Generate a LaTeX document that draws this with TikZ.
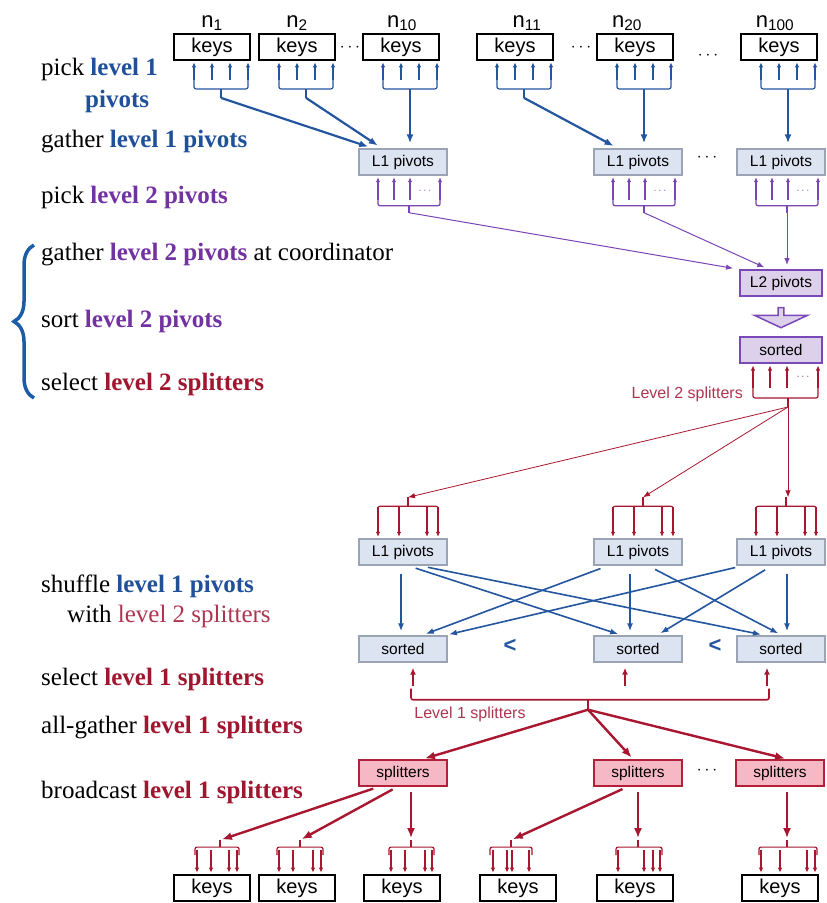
\documentclass[tikz,border=0pt]{standalone}
\usepackage{fontspec}
\setmainfont{Liberation Serif}
\setsansfont{Liberation Sans}
\usepackage{tikz}
\usetikzlibrary{arrows.meta,positioning,calc,shapes.arrows,decorations.pathreplacing}

\definecolor{lvlone}{HTML}{20509A}
\definecolor{lvltwo}{HTML}{7232A2}
\definecolor{splt}{HTML}{A1162F}
\definecolor{spltlight}{HTML}{AE3550}
\definecolor{arrblue}{HTML}{2456A0}
\definecolor{arrpurp}{HTML}{7A45B5}
\definecolor{arrred}{HTML}{A8162F}
\definecolor{pivfill}{HTML}{DCE3F1}
\definecolor{pivline}{HTML}{9AA4B4}
\definecolor{lavfill}{HTML}{DCD0EA}
\definecolor{lavline}{HTML}{7A48B8}
\definecolor{pinkfill}{HTML}{F5B8C4}
\definecolor{redline}{HTML}{B3203A}
\definecolor{bracecol}{HTML}{1A5DA6}

\newcommand{\blueword}[1]{\textbf{\color{lvlone}#1}}
\newcommand{\purpleword}[1]{\textbf{\color{lvltwo}#1}}
\newcommand{\redword}[1]{\textbf{\color{splt}#1}}

\begin{document}
\begin{tikzpicture}[x=1pt, y=-1pt, >=Latex,
  keysbox/.style={draw=black, line width=1.8pt, fill=white, minimum width=76pt, minimum height=26pt, inner sep=0pt, font=\sffamily\fontsize{20}{20}\selectfont},
  pivbox/.style={draw=pivline, line width=1.4pt, fill=pivfill, minimum width=88pt, minimum height=26pt, inner sep=0pt, font=\sffamily\fontsize{15.5}{15.5}\selectfont},
  lavbox/.style={draw=lavline, line width=2pt, fill=lavfill, minimum width=82pt, minimum height=26pt, inner sep=0pt, font=\sffamily\fontsize{15.5}{15.5}\selectfont},
  splitbox/.style={draw=redline, line width=2pt, fill=pinkfill, minimum width=88pt, minimum height=26pt, inner sep=0pt, font=\sffamily\fontsize{15.5}{15.5}\selectfont},
  nlab/.style={anchor=base, inner sep=0pt, font=\sffamily\fontsize{22}{22}\selectfont},
  steptext/.style={anchor=base west, inner sep=0pt, font=\fontsize{25}{25}\selectfont},
  redlab/.style={text=spltlight, inner sep=0pt, font=\sffamily\fontsize{16}{16}\selectfont},
  dotlab/.style={inner sep=0pt, font=\fontsize{16}{16}\selectfont},
  blueup/.style={draw=arrblue, line width=1.2pt, -{Latex[length=5pt,width=4.5pt]}},
  bluecomb/.style={draw=arrblue, line width=1.2pt, rounded corners=2pt},
  bluebig/.style={draw=arrblue, line width=2.2pt, -{Latex[length=9pt,width=7pt]}, shorten >=5pt},
  bluemid/.style={draw=arrblue, line width=1.6pt, -{Latex[length=8pt,width=6pt]}, shorten <=8pt, shorten >=4pt},
  purpup/.style={draw=arrpurp, line width=1.3pt, -{Latex[length=5pt,width=4.5pt]}},
  purpcomb/.style={draw=arrpurp, line width=1.3pt, rounded corners=2pt},
  purpthin/.style={draw=arrpurp, line width=1pt, -{Latex[length=7pt,width=5.5pt]}, shorten >=4pt},
  redup/.style={draw=arrred, line width=1.2pt, -{Latex[length=5pt,width=4.5pt]}},
  redcomb/.style={draw=arrred, line width=1.2pt, rounded corners=2pt},
  redthin/.style={draw=arrred, line width=0.8pt, -{Latex[length=7pt,width=5.5pt]}},
  redmid/.style={draw=arrred, line width=1.8pt, -{Latex[length=7pt,width=6pt]}},
  redbig/.style={draw=arrred, line width=2.4pt, -{Latex[length=10pt,width=8pt]}, shorten >=2pt}]

\useasboundingbox (0,0) rectangle (827,903);
\fill[white] (0,0) rectangle (827,903);

\node[steptext] (t1) at (41,75) {pick \blueword{level 1}};
\node[steptext] (t1b) at (85,107) {\blueword{pivots}};
\node[steptext] (t2) at (41,147) {gather \blueword{level 1 pivots}};
\node[steptext] (t3) at (41,203) {pick \purpleword{level 2 pivots}};
\node[steptext] (t4) at (41,260) {gather \purpleword{level 2 pivots} at coordinator};
\node[steptext] (t5) at (41,327) {sort \purpleword{level 2 pivots}};
\node[steptext] (t6) at (41,390) {select \redword{level 2 splitters}};
\node[steptext] (t7) at (41,592) {shuffle \blueword{level 1 pivots}};
\node[steptext] (t7b) at (67,622) {with {\color{spltlight}level 2 splitters}};
\node[steptext] (t8) at (41,685) {select \redword{level 1 splitters}};
\node[steptext] (t9) at (41,733) {all-gather \redword{level 1 splitters}};
\node[steptext] (t10) at (41,798) {broadcast \redword{level 1 splitters}};
\draw[decorate, decoration={brace, amplitude=20pt}, draw=bracecol, line width=3.5pt] (34,398) -- (34,245);

\node[keysbox] (ka1) at (212,47) {keys};
\node[keysbox] (ka2) at (297,47) {keys};
\node[keysbox] (ka3) at (401,47) {keys};
\node[keysbox] (ka4) at (515,47) {keys};
\node[keysbox] (ka5) at (635,47) {keys};
\node[keysbox] (ka6) at (779,47) {keys};
\node[nlab] (n1) at (212,27) {n\textsubscript{1}};
\node[nlab] (n2) at (297,27) {n\textsubscript{2}};
\node[nlab] (n10) at (402,27) {n\textsubscript{10}};
\node[nlab] (n11) at (527,27) {n\textsubscript{11}};
\node[nlab] (n20) at (627,27) {n\textsubscript{20}};
\node[nlab] (n100) at (775,27) {n\textsubscript{100}};
\node[dotlab] (da1) at (350,48) {$\cdots$};
\node[dotlab] (da2) at (581,48) {$\cdots$};
\node[dotlab] (da3) at (708,56) {$\cdots$};

\node[pivbox] (pa1) at (403,162) {L1 pivots};
\node[pivbox] (pa2) at (638,162) {L1 pivots};
\node[pivbox] (pa3) at (781,162) {L1 pivots};
\node[dotlab] (da4) at (707,158) {$\cdots$};

\foreach \k in {ka1,ka2,ka3,ka4,ka5,ka6} {
  \foreach \dx in {-18,0,18,36}
    \draw[blueup] ($(\k.south)+(\dx,19)$) -- ($(\k.south)+(\dx,1.5)$);
  \draw[bluecomb] ($(\k.south)+(-18,17)$) |- ($(\k.south)+(36,28)$) -- ($(\k.south)+(36,17)$);
  \draw[bluecomb] ($(\k.south)+(9,28)$) -- ($(\k.south)+(9,37)$) coordinate (st\k);
}
\draw[bluebig] (stka1) -- ([xshift=-30pt]pa1.north);
\draw[bluebig] (stka2) -- ([xshift=-21pt]pa1.north);
\draw[bluebig] (stka3) -- (stka3 |- pa1.north);
\draw[bluebig] (stka4) -- ([xshift=-20pt]pa2.north);
\draw[bluebig] (stka5) -- (stka5 |- pa2.north);
\draw[bluebig] (stka6) -- (stka6 |- pa3.north);

\node[lavbox] (ltwo) at (781,283) {L2 pivots};
\node[single arrow, draw=lavline, fill=lavfill, line width=1.5pt, shape border rotate=270, minimum width=53pt, minimum height=20pt, single arrow head extend=6pt, single arrow tip angle=130, inner sep=0pt] (sortarr) at (781,317) {};
\node[lavbox] (lsort) at (781,350) {sorted};

\foreach \p in {pa1,pa2,pa3} {
  \foreach \dx in {-25,-9,7,37}
    \draw[purpup] ($(\p.south)+(\dx,24)$) -- ($(\p.south)+(\dx,1.5)$);
  \node[dotlab, text=arrpurp, font=\fontsize{11}{11}\selectfont] (d\p) at ($(\p.south)+(22,15)$) {$\cdots$};
  \draw[purpcomb] ($(\p.south)+(-25,22)$) |- ($(\p.south)+(37,30)$) -- ($(\p.south)+(37,22)$);
  \draw[purpcomb] ($(\p.south)+(6,30)$) -- ($(\p.south)+(6,37)$) coordinate (st\p);
}
\draw[purpthin] (stpa1) -- ([xshift=-44pt]ltwo.north);
\draw[purpthin] (stpa2) -- ([xshift=-13pt]ltwo.north);
\draw[purpthin] (stpa3) -- (stpa3 |- ltwo.north);

\foreach \dx in {-28,-11,6,37}
  \draw[redup] ($(lsort.south)+(\dx,24)$) -- ($(lsort.south)+(\dx,1.5)$);
\node[dotlab, text=arrred, font=\fontsize{11}{11}\selectfont] (dls) at ($(lsort.south)+(22,13)$) {$\cdots$};
\draw[redcomb] ($(lsort.south)+(-28,24)$) |- ($(lsort.south)+(37,34)$) -- ($(lsort.south)+(37,24)$);
\draw[redcomb] ($(lsort.south)+(7,34)$) -- ($(lsort.south)+(7,43)$) coordinate (stls);
\node[redlab, anchor=east] (lvtwo) at ($(lsort.south)+(-38,30)$) {Level 2 splitters};

\node[pivbox] (pb1) at (403,552) {L1 pivots};
\node[pivbox] (pb2) at (638,552) {L1 pivots};
\node[pivbox] (pb3) at (781,552) {L1 pivots};
\foreach \m in {pb1,pb2,pb3} {
  \draw[redcomb] ($(\m.north)+(5,-41)$) coordinate (st\m) -- ($(\m.north)+(5,-32)$);
  \draw[redcomb] ($(\m.north)+(-25,-26)$) |- ($(\m.north)+(35,-32)$) -- ($(\m.north)+(35,-26)$);
  \foreach \dx in {-25,-4,24,35}
    \draw[redup] ($(\m.north)+(\dx,-31)$) -- ($(\m.north)+(\dx,-1.5)$);
}
\draw[redthin] (stls) -- (stpb1);
\draw[redthin] (stls) -- (stpb2);
\draw[redthin] (stls) -- (stls |- stpb3);

\node[pivbox] (so1) at (403,649) {sorted};
\node[pivbox] (so2) at (638,649) {sorted};
\node[pivbox] (so3) at (781,649) {sorted};
\node[text=arrblue, inner sep=0pt, font=\sffamily\bfseries\fontsize{22}{22}\selectfont] (lt1) at (510,646) {<};
\node[text=arrblue, inner sep=0pt, font=\sffamily\bfseries\fontsize{22}{22}\selectfont] (lt2) at (715,646) {<};

\draw[bluemid] ([xshift=-2pt]pb1.south) -- ([xshift=-2pt]so1.north);
\draw[bluemid] ([xshift=5pt]pb1.south) -- ([xshift=-16pt]so2.north);
\draw[bluemid] ([xshift=17pt]pb1.south) -- ([xshift=-16pt]so3.north);
\draw[bluemid] ([xshift=-30pt]pb2.south) -- ([xshift=19pt]so1.north);
\draw[bluemid] ([xshift=-8pt]pb2.south) -- ([xshift=-8pt]so2.north);
\draw[bluemid] ([xshift=10pt]pb2.south) -- ([xshift=1pt]so3.north);
\draw[bluemid] ([xshift=-38pt]pb3.south) -- ([xshift=42pt]so1.north);
\draw[bluemid] ([xshift=-9pt]pb3.south) -- ([xshift=19pt]so2.north);
\draw[bluemid] ([xshift=6pt]pb3.south) -- ([xshift=6pt]so3.north);

\draw[redmid] ($(so1.south)+(10,23)$) -- ($(so1.south)+(10,5)$);
\draw[redmid] ($(so2.south)+(-13,23)$) -- ($(so2.south)+(-13,5)$);
\draw[redmid] ($(so3.south)+(-14,23)$) -- ($(so3.south)+(-14,5)$);
\draw[redcomb, line width=1.6pt] ($(so1.south)+(8,26)$) |- ($(so3.south)+(-12,37)$) -- ($(so3.south)+(-12,26)$);
\draw[redcomb, line width=1.6pt] ($(so1.south)!0.5!(so3.south)+(-4,37)$) -- ($(so1.south)!0.5!(so3.south)+(-4,47)$) coordinate (stso);
\node[redlab] (lvone) at ($(stso)+(-118,5)$) {Level 1 splitters};

\node[splitbox] (sp1) at (403,773) {splitters};
\node[splitbox] (sp2) at (638,773) {splitters};
\node[splitbox] (sp3) at (780,773) {splitters};
\node[dotlab] (da5) at (707,771) {$\cdots$};
\draw[redbig] (stso) -- ([xshift=20pt]sp1.north);
\draw[redbig] (stso) -- ([xshift=-5pt]sp1.north -| sp2.north);
\draw[redbig] (stso) -- ([xshift=7pt]sp3.north);

\node[keysbox] (kb1) at (212,888) {keys};
\node[keysbox] (kb2) at (297,888) {keys};
\node[keysbox] (kb3) at (402,888) {keys};
\node[keysbox] (kb4) at (518,888) {keys};
\node[keysbox] (kb5) at (635,888) {keys};
\node[keysbox] (kb6) at (780,888) {keys};
\foreach \b/\xs/\l/\r/\st in {kb1/{-15,-1,17,25}/-17/27/8, kb2/{-18,-4,16,24}/-20/26/3, kb3/{-11,3,23,30}/-13/32/9,
  kb4/{-25,-11,-6,11}/-28/14/-7, kb5/{-17,9,18,25}/-19/27/3, kb6/{-19,0,27,35}/-21/37/7} {
  \draw[redcomb] ($(\b.north)+(\st,-34)$) coordinate (st\b) -- ($(\b.north)+(\st,-27)$);
  \draw[redcomb] ($(\b.north)+(\l,-19)$) |- ($(\b.north)+(\r,-27)$) -- ($(\b.north)+(\r,-19)$);
  \foreach \dx in \xs
    \draw[redup] ($(\b.north)+(\dx,-24)$) -- ($(\b.north)+(\dx,-1.5)$);
}
\draw[redbig, shorten <=5pt] ([xshift=-25pt]sp1.south) -- (stkb1);
\draw[redbig, shorten <=5pt] ([xshift=-6pt]sp1.south) -- (stkb2);
\draw[redbig, shorten <=5pt] (stkb3 |- sp1.south) -- (stkb3);
\draw[redbig, shorten <=5pt] ([xshift=-11pt]sp2.south) -- (stkb4);
\draw[redbig, shorten <=5pt] (stkb5 |- sp2.south) -- (stkb5);
\draw[redbig, shorten <=5pt] (stkb6 |- sp3.south) -- (stkb6);
\end{tikzpicture}
\end{document}
